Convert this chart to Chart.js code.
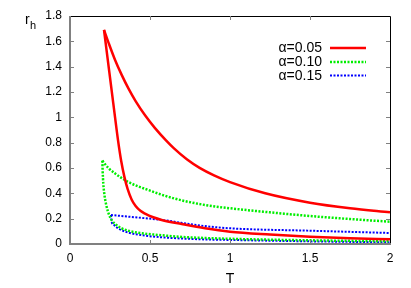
<!DOCTYPE html>
<html>
<head>
<meta charset="utf-8">
<script src="https://cdn.jsdelivr.net/npm/chart.js@4/dist/chart.umd.min.js"></script>
<style>
html,body{margin:0;padding:0;background:#fff;}
#wrap{width:411px;height:288px;}
</style>
</head>
<body>
<div id="wrap"><canvas id="c" width="411" height="288"></canvas></div>
<script>
// ---- data ----
const seriesLabels = ['α=0.05', 'α=0.10', 'α=0.15'];

// alpha = 0.05 : upper branch and lower branch, both starting at the cusp
const redUpperT = [0.2125, 0.24, 0.281, 0.323, 0.365, 0.41, 0.469, 0.53, 0.6, 0.65, 0.73, 0.81, 0.9, 1.0, 1.22, 1.5, 1.75, 2.0];
const redUpperR = [1.69, 1.592, 1.455, 1.335, 1.228, 1.128, 1.016, 0.917, 0.818, 0.755, 0.669, 0.601, 0.542, 0.489, 0.40, 0.326, 0.282, 0.25];
const redLowerT = [0.2125, 0.23, 0.246, 0.265, 0.281, 0.30, 0.32, 0.34, 0.36, 0.385, 0.41, 0.44, 0.469, 0.52, 0.573, 0.698, 0.844, 1.0, 1.25, 1.5, 1.75, 2.0];
const redLowerR = [1.69, 1.515, 1.355, 1.165, 1.005, 0.82, 0.655, 0.53, 0.435, 0.352, 0.30, 0.262, 0.24, 0.211, 0.19, 0.158, 0.124, 0.097, 0.075, 0.058, 0.046, 0.037];

// alpha = 0.10
const greenUpperT = [0.202, 0.24, 0.28, 0.364, 0.49, 0.65, 0.843, 1.0, 1.25, 1.5, 1.75, 2.0];
const greenUpperR = [0.658, 0.60, 0.558, 0.49, 0.426, 0.36, 0.308, 0.282, 0.25, 0.221, 0.197, 0.176];
const greenLowerT = [0.202, 0.204, 0.208, 0.215, 0.229, 0.243, 0.26, 0.29, 0.323, 0.37, 0.427, 0.573, 0.7, 0.85, 1.0, 1.25, 1.5, 2.0];
const greenLowerR = [0.658, 0.58, 0.479, 0.39, 0.294, 0.235, 0.19, 0.15, 0.124, 0.103, 0.089, 0.069, 0.056, 0.047, 0.041, 0.034, 0.029, 0.021];

// alpha = 0.15
const blueUpperT = [0.256, 0.364, 0.573, 0.82, 1.0, 1.5, 2.0];
const blueUpperR = [0.229, 0.216, 0.19, 0.145, 0.124, 0.105, 0.087];
const blueLowerT = [0.256, 0.258, 0.26, 0.275, 0.3, 0.34, 0.385, 0.47, 0.573, 0.823, 1.0, 1.5, 2.0];
const blueLowerR = [0.229, 0.2, 0.176, 0.15, 0.124, 0.1, 0.084, 0.066, 0.053, 0.037, 0.032, 0.021, 0.013];

const xTickValues = [0, 0.5, 1, 1.5, 2];
const xTickLabels = ['0', '0.5', '1', '1.5', '2'];
const yTickValues = [0, 0.2, 0.4, 0.6, 0.8, 1, 1.2, 1.4, 1.6, 1.8];
const yTickLabels = ['0', '0.2', '0.4', '0.6', '0.8', '1', '1.2', '1.4', '1.6', '1.8'];
const xTitle = 'T';
const yTitleMain = 'r';
const yTitleSub = 'h';

// ---- chart ----
function pts(t, r) { return t.map((v, i) => ({x: v, y: r[i]})); }
function labelFor(values, labels, v) {
  for (let i = 0; i < values.length; i++) if (Math.abs(values[i] - v) < 1e-6) return labels[i];
  return '';
}
const FONT = '"Liberation Sans", Arial, Helvetica, sans-serif';

const styles = [
  {borderColor: '#ff0000', borderWidth: 2.5, borderDash: []},
  {borderColor: '#00ee00', borderWidth: 2.5, borderDash: [2, 1.5]},
  {borderColor: '#0000ff', borderWidth: 2, borderDash: [2, 1.5]}
];

const framePlugin = {
  id: 'frame',
  afterDatasetsDraw(chart) {
    const ctx = chart.ctx;
    const a = chart.chartArea;
    const xs = chart.scales.x, ys = chart.scales.y;
    ctx.save();
    ctx.strokeStyle = '#000';
    ctx.lineWidth = 1;
    ctx.beginPath();
    ctx.moveTo(a.left, a.top + 0.5); ctx.lineTo(a.right + 0.5, a.top + 0.5);
    ctx.lineTo(a.right + 0.5, a.bottom);
    ctx.stroke();
    ctx.strokeStyle = '#808080';
    ctx.lineWidth = 2;
    ctx.beginPath();
    ctx.moveTo(a.left, a.top); ctx.lineTo(a.left, a.bottom); ctx.lineTo(a.right + 1, a.bottom);
    ctx.stroke();
    ctx.strokeStyle = '#808080';
    ctx.lineWidth = 1;
    ctx.beginPath();
    xTickValues.forEach(v => {
      const px = Math.round(xs.getPixelForValue(v)) + 0.5;
      if (v > 0 && v < 2) {
        ctx.moveTo(px, a.bottom); ctx.lineTo(px, a.bottom - 4);
        ctx.moveTo(px, a.top); ctx.lineTo(px, a.top + 4);
      }
    });
    yTickValues.forEach(v => {
      const py = Math.round(ys.getPixelForValue(v)) + 0.5;
      if (v > 0 && v < 1.8) {
        ctx.moveTo(a.left, py); ctx.lineTo(a.left + 4, py);
        ctx.moveTo(a.right, py); ctx.lineTo(a.right - 4, py);
      }
    });
    ctx.stroke();
    ctx.fillStyle = '#000';
    ctx.textBaseline = 'alphabetic';
    ctx.textAlign = 'center';
    ctx.font = '14px ' + FONT;
    ctx.fillText(xTitle, (a.left + a.right) / 2, 283);
    ctx.textAlign = 'left';
    ctx.fillText(yTitleMain, 25, 24);
    ctx.font = '11px ' + FONT;
    ctx.fillText(yTitleSub, 30, 29);
    const rowsY = [48, 62, 75.5];
    seriesLabels.forEach((lab, i) => {
      const y = rowsY[i];
      const st = styles[i];
      ctx.font = '14px ' + FONT;
      ctx.textAlign = 'right';
      ctx.textBaseline = 'middle';
      ctx.fillStyle = '#000';
      ctx.fillText(lab, 322, y + 0.5);
      ctx.strokeStyle = st.borderColor;
      ctx.lineWidth = st.borderWidth;
      ctx.setLineDash(st.borderDash);
      ctx.beginPath();
      ctx.moveTo(330, y); ctx.lineTo(366, y);
      ctx.stroke();
      ctx.setLineDash([]);
    });
    ctx.restore();
  }
};

function ds(label, t, r, st) {
  return Object.assign({
    type: 'scatter', label: label, data: pts(t, r), showLine: true, pointRadius: 0, pointHoverRadius: 0,
    fill: false, cubicInterpolationMode: 'monotone', borderJoinStyle: 'round'
  }, st);
}

new Chart(document.getElementById('c'), {
  type: 'scatter',
  data: {
    datasets: [
      ds(seriesLabels[0], redUpperT, redUpperR, styles[0]),
      ds(seriesLabels[0], redLowerT, redLowerR, styles[0]),
      ds(seriesLabels[1], greenUpperT, greenUpperR, styles[1]),
      ds(seriesLabels[1], greenLowerT, greenLowerR, styles[1]),
      ds(seriesLabels[2], blueUpperT, blueUpperR, styles[2]),
      ds(seriesLabels[2], blueLowerT, blueLowerR, styles[2])
    ]
  },
  options: {
    responsive: false,
    devicePixelRatio: 1,
    animation: false,
    events: [],
    layout: {padding: {top: 16, right: 21, left: 0, bottom: 0}},
    plugins: {legend: {display: false}, tooltip: {enabled: false}, title: {display: false}},
    scales: {
      x: {
        type: 'linear', min: 0, max: 2,
        afterBuildTicks: s => { s.ticks = xTickValues.map(v => ({value: v})); },
        afterFit: s => { s.height = 44; },
        grid: {display: false, drawTicks: false},
        border: {display: false},
        ticks: {padding: 7, color: '#000', font: {family: FONT, size: 12}, maxRotation: 0,
                callback: v => labelFor(xTickValues, xTickLabels, v)}
      },
      y: {
        type: 'linear', min: 0, max: 1.8,
        afterBuildTicks: s => { s.ticks = yTickValues.map(v => ({value: v})); },
        afterFit: s => { s.width = 70; },
        grid: {display: false, drawTicks: false},
        border: {display: false},
        ticks: {padding: 8, color: '#000', font: {family: FONT, size: 12},
                callback: v => labelFor(yTickValues, yTickLabels, v)}
      }
    }
  },
  plugins: [framePlugin]
});
</script>
</body>
</html>
